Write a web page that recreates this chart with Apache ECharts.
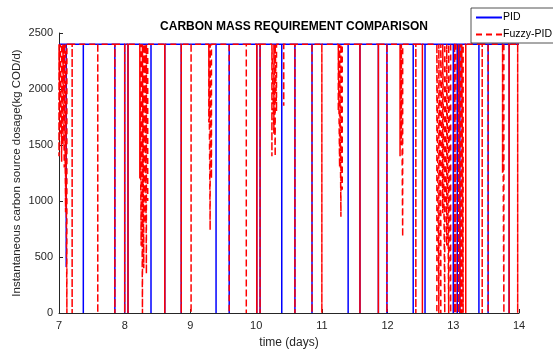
<!DOCTYPE html>
<html lang="en">
<head>
    <meta charset="UTF-8">
    <script src="https://cdn.jsdelivr.net/npm/echarts@6/dist/echarts.min.js"></script>
    <title>Carbon Mass Requirement Comparison</title>
    <style>
        body { margin: 0; background: #fff; }
        #main { width: 553px; height: 349px; }
    </style>
</head>
<body>
    <div id="main"></div>
    <script>
        var topLevel = 2400;
        var pidTimes = [7.11, 7.37, 7.85, 8.00, 8.05, 8.40, 8.61, 8.86, 9.39, 9.59, 10.01, 10.06, 10.39, 10.59,
                        10.85, 11.40, 11.58, 11.86, 11.99, 12.39, 12.57, 13.00, 13.06, 13.10, 13.39, 13.53, 13.85];
        var pidMins  = [410, 0, 0, 0, 0, 0, 0, 0, 0, 0, 0, 0, 0, 0,
                        0, 0, 0, 0, 0, 0, 0, 0, 0, 0, 0, 0, 0];
        var fuzzyTimes = [7.00, 7.02, 7.04, 7.06, 7.08, 7.10, 7.12, 7.20, 7.59, 7.85, 8.00, 8.05,
                          8.23, 8.25, 8.27, 8.29, 8.31, 8.33, 8.35, 8.61, 8.86, 9.01, 9.28, 9.30, 9.32,
                          9.59, 9.85, 10.01, 10.06, 10.24, 10.27, 10.29, 10.31, 10.42, 10.59, 10.85, 11.00,
                          11.25, 11.27, 11.29, 11.31, 11.58, 11.86, 11.99, 12.19, 12.21, 12.23, 12.43, 12.53,
                          12.75, 12.78, 12.81, 12.84, 12.87, 12.90, 12.93, 12.96, 13.02, 13.04, 13.08, 13.11,
                          13.13, 13.15, 13.19, 13.44, 13.53, 13.75, 13.77, 13.85, 13.98];
        var fuzzyMins  = [1400, 1600, 1350, 1500, 1300, 900, 0, 0, 0, 0, 0, 0,
                          1200, 600, 0, 400, 800, 350, 1000, 0, 0, 0, 1700, 740, 1200,
                          0, 0, 0, 0, 1400, 1600, 1400, 1800, 1850, 0, 0, 0,
                          1800, 1300, 860, 1100, 0, 0, 0, 1400, 1500, 680, 0, 0,
                          0, 0, 0, 890, 0, 600, 0, 0, 0, 0, 0, 0,
                          0, 0, 0, 0, 0, 1250, 0, 0, 0];
        var xTicks = [7, 8, 9, 10, 11, 12, 13, 14];
        var yTicks = [0, 500, 1000, 1500, 2000, 2500];

        function buildSeries(times, mins) {
            var pts = [[7, topLevel]];
            for (var i = 0; i < times.length; i++) {
                pts.push([times[i], topLevel], [times[i], mins[i]], [times[i], topLevel]);
            }
            pts.push([14, topLevel]);
            return pts;
        }

        var chart = echarts.init(document.getElementById('main'));
        var font = 'Liberation Sans, Arial, sans-serif';
        var option = {
            animation: false,
            title: {
                text: 'CARBON MASS REQUIREMENT COMPARISON',
                left: 289, top: 16, textAlign: 'center',
                textStyle: { fontFamily: font, fontSize: 12, fontWeight: 'bold', color: '#000' }
            },
            legend: {
                left: 471, top: 8, orient: 'vertical',
                itemWidth: 26, itemHeight: 8, itemGap: 6,
                padding: [4, 10, 3, 4],
                borderColor: '#262626', borderWidth: 0.8, backgroundColor: '#fff',
                itemStyle: { opacity: 0 },
                textStyle: { fontFamily: font, fontSize: 10.5, color: '#000', padding: [0, 0, 0, -4] },
                data: ['PID', 'Fuzzy-PID']
            },
            grid: { left: 59, right: 34, top: 33, bottom: 36, outerBoundsMode: 'none', containLabel: false },
            xAxis: {
                type: 'value', min: xTicks[0], max: xTicks[xTicks.length - 1], interval: 1,
                name: 'time (days)', nameLocation: 'middle', nameGap: 24,
                nameTextStyle: { fontFamily: font, fontSize: 12, color: '#262626' },
                axisLine: { lineStyle: { color: '#262626', width: 1 } },
                axisTick: { inside: true, length: 4, lineStyle: { color: '#262626' } },
                axisLabel: { fontFamily: font, fontSize: 11, color: '#262626', margin: 7 },
                splitLine: { show: false }
            },
            yAxis: {
                type: 'value', min: yTicks[0], max: yTicks[yTicks.length - 1], interval: 500,
                name: 'Instantaneous carbon source dosage(kg COD/d)', nameLocation: 'middle', nameGap: 36,
                nameMoveOverlap: false,
                nameTextStyle: { fontFamily: font, fontSize: 11.5, color: '#262626' },
                axisLine: { show: true, lineStyle: { color: '#262626', width: 1 } },
                axisTick: { show: true, inside: true, length: 4, lineStyle: { color: '#262626' } },
                axisLabel: { fontFamily: font, fontSize: 11, color: '#262626', margin: 6,
                             formatter: function (v) { return String(v); } },
                splitLine: { show: false }
            },
            series: [
                {
                    name: 'PID', type: 'line', symbol: 'none', showSymbol: false,
                    data: buildSeries(pidTimes, pidMins),
                    lineStyle: { color: '#0000ff', width: 1.5 },
                    itemStyle: { color: '#0000ff' }
                },
                {
                    name: 'Fuzzy-PID', type: 'line', symbol: 'none', showSymbol: false,
                    data: buildSeries(fuzzyTimes, fuzzyMins),
                    lineStyle: { color: '#ff0000', width: 1.5, type: [6, 4] },
                    itemStyle: { color: '#ff0000' }
                }
            ]
        };
        chart.setOption(option);
    </script>
</body>
</html>
